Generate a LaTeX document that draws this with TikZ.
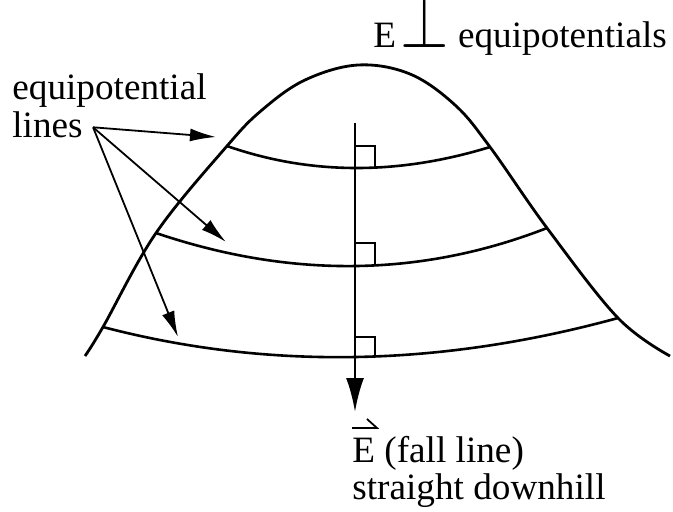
\documentclass[tikz,border=0pt]{standalone}
\usepackage{amsmath,amssymb}
\usepackage{fontspec}
\setmainfont{Liberation Serif}
\usetikzlibrary{arrows.meta,positioning}
\tikzset{
  hill/.style={line width=1.4pt,line join=round},
  equi/.style={line width=1.3pt},
  fallline/.style={-{Latex[length=17pt,width=9pt]},line width=1.4pt},
  pointer/.style={-{Latex[length=13pt,width=6.5pt]},line width=0.9pt},
  rightangle/.style={line width=1.2pt},
  harpoon/.style={line width=0.9pt,line join=miter},
  txt/.style={font=\fontsize{18.6}{19.5}\selectfont,inner sep=0pt}
}

\begin{document}
\begin{tikzpicture}[x=0.5pt,y=-0.5pt]
  \useasboundingbox (0,0) rectangle (673,511);
  % the hill
  \draw[hill] plot[smooth,tension=0.6] coordinates {(85,356) (103,327) (156,233)
    (227,146) (262,110) (305,80) (358,65) (410,74) (455,105) (490,147)
    (547,228) (618,318) (670,356)};
  % equipotential lines
  \draw[equi] (227,146) .. controls (310,175) and (397.7,175.3) .. (490,147);
  \draw[equi] (156,233) .. controls (291,278.7) and (421.3,277) .. (547,228);
  \draw[equi] (103,327) .. controls (267.3,370) and (439,367) .. (618,318);
  % fall line with right angles
  \coordinate (ftop) at (355,123);
  \coordinate (fbot) at (355,412);
  \draw[fallline] (ftop) -- (fbot);
  \draw[rightangle] (355,146) -| (375,167.5);
  \draw[rightangle] (355,243) -| (375,265.5);
  \draw[rightangle] (355,337) -| (375,356.5);
  % labels
  \node[txt,anchor=base west] (perp) at (373,47)
    {E\hspace{6pt}\makebox[17pt]{\smash{\scalebox{1.8}[2.1]{$\perp$}}}\hspace{8pt}equipotentials};
  \node[txt,anchor=base west] (equip) at (12,99) {equipotential};
  \node[txt,anchor=base west] (lines) at (12,137) {lines};
  \node[txt,anchor=base west] (fall) at (352,462) {E (fall line)};
  \node[txt,anchor=base west] (down) at ([yshift=-18.5pt]fall.base west) {straight downhill};
  % vector harpoon over the E
  \draw[harpoon] ([yshift=17pt]fall.base west) -- ++(25,0) -- ++(-10,-9);
  % pointers
  \coordinate (src) at ([xshift=5pt,yshift=-1.5pt]lines.east);
  \coordinate (tip1) at (216,137);
  \coordinate (tip2) at (226,242);
  \coordinate (tip3) at (178,337);
  \draw[pointer] (src) -- (tip1);
  \draw[pointer] (src) -- (tip2);
  \draw[pointer] (src) -- (tip3);
\end{tikzpicture}
\end{document}
